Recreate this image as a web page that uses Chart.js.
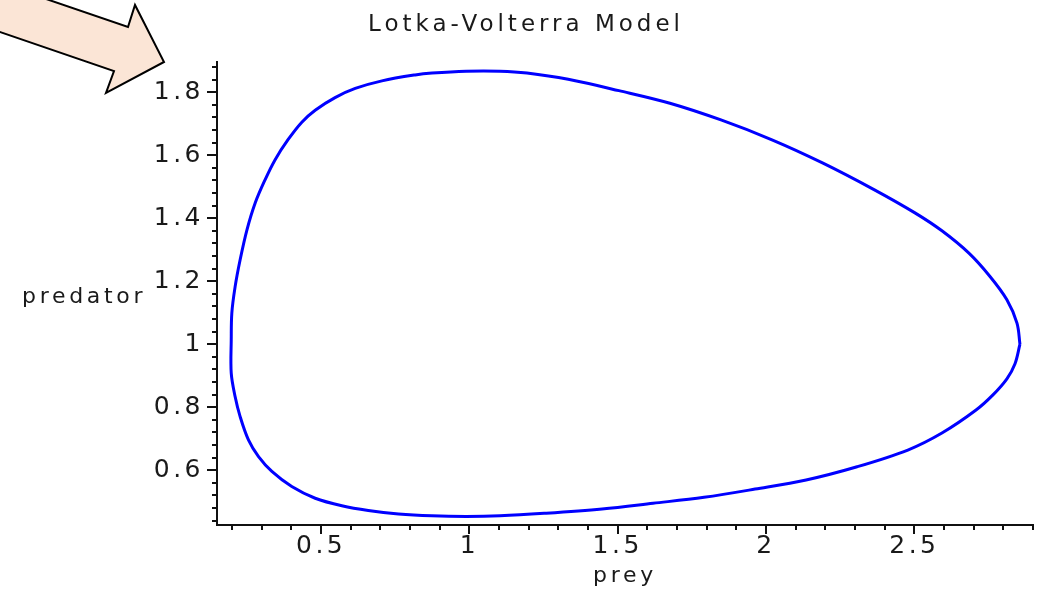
<!DOCTYPE html>
<html>
<head>
<meta charset="utf-8">
<title>Lotka-Volterra Model</title>
<script src="https://cdn.jsdelivr.net/npm/chart.js@4.4.1/dist/chart.umd.min.js"></script>
<style>
  body { margin: 0; background: #fff; }
  canvas { display: block; }
</style>
</head>
<body>
<canvas id="lv_chart" width="1038" height="590"></canvas>
<script>
const chart_title = 'Lotka-Volterra Model';
const x_label = 'prey';
const y_label = 'predator';

// orbit, starting at the right-most point, going round the top first
const prey = [
  2.856, 2.846, 2.812, 2.755, 2.684, 2.593, 2.502, 2.364, 2.192, 2.020,
  1.848, 1.676, 1.504, 1.333, 1.194, 1.103, 0.989, 0.874, 0.817, 0.705,
  0.615, 0.547, 0.480, 0.435, 0.389, 0.345, 0.311, 0.278, 0.250, 0.227,
  0.210, 0.199, 0.197, 0.197, 0.210, 0.227, 0.255, 0.289, 0.334, 0.401,
  0.480, 0.570, 0.659, 0.761, 0.873, 0.989, 1.103, 1.252, 1.447, 1.619,
  1.791, 1.963, 2.135, 2.307, 2.478, 2.593, 2.708, 2.765, 2.812, 2.839,
  2.856
];
const predator = [
  1.000, 1.067, 1.141, 1.215, 1.289, 1.360, 1.417, 1.491, 1.575, 1.649,
  1.712, 1.765, 1.805, 1.841, 1.861, 1.867, 1.867, 1.861, 1.855, 1.836,
  1.812, 1.783, 1.743, 1.705, 1.650, 1.586, 1.522, 1.449, 1.363, 1.268,
  1.182, 1.099, 1.014, 0.908, 0.834, 0.770, 0.696, 0.643, 0.596, 0.548,
  0.511, 0.487, 0.472, 0.461, 0.455, 0.453, 0.455, 0.463, 0.477, 0.495,
  0.514, 0.540, 0.569, 0.611, 0.664, 0.718, 0.791, 0.839, 0.890, 0.937,
  1.000
];

const x_ticks = [0.5, 1, 1.5, 2, 2.5];
const y_ticks = [0.6, 0.8, 1, 1.2, 1.4, 1.6, 1.8];
const x_range = [0.149, 2.9];
const y_range = [0.426, 1.896];

const x_minor = [];
for (let i = 2; i <= 29; i++) x_minor.push(i / 10);
const y_minor = [];
for (let i = 11; i <= 47; i++) y_minor.push(i * 4 / 100);

const text_color = '#1a1a1a';
const font_family = 'DejaVu Sans';

const maple_axes = {
  id: 'maple_axes',
  beforeDraw: (chart) => {
    chart.ctx.letterSpacing = '3.5px';
  },
  afterDraw: (chart) => {
    const ctx = chart.ctx;
    const xs = chart.scales.x;
    const ys = chart.scales.y;
    const area = chart.chartArea;

    ctx.save();
    ctx.strokeStyle = '#111';
    ctx.lineWidth = 2;
    ctx.beginPath();
    x_minor.forEach((v) => {
      const px = Math.round(xs.getPixelForValue(v));
      ctx.moveTo(px, area.bottom);
      ctx.lineTo(px, area.bottom + 5);
    });
    x_ticks.forEach((v) => {
      const px = Math.round(xs.getPixelForValue(v));
      ctx.moveTo(px, area.bottom);
      ctx.lineTo(px, area.bottom + 9);
    });
    y_minor.forEach((v) => {
      const py = Math.round(ys.getPixelForValue(v));
      ctx.moveTo(area.left, py);
      ctx.lineTo(area.left - 5, py);
    });
    y_ticks.forEach((v) => {
      const py = Math.round(ys.getPixelForValue(v));
      ctx.moveTo(area.left, py);
      ctx.lineTo(area.left - 10, py);
    });
    ctx.stroke();

    ctx.fillStyle = text_color;
    ctx.textAlign = 'left';
    ctx.textBaseline = 'alphabetic';
    ctx.font = `23px "${font_family}"`;
    ctx.letterSpacing = '4px';
    ctx.fillText(chart_title, 368, 31);
    ctx.font = `22px "${font_family}"`;
    ctx.letterSpacing = '3.7px';
    ctx.fillText(y_label, 22, 303);
    ctx.fillText(x_label, 593, 582);

    // call-out arrow in the top left corner
    ctx.beginPath();
    ctx.moveTo(-10, 28.6);
    ctx.lineTo(114, 71);
    ctx.lineTo(106, 93);
    ctx.lineTo(164, 62);
    ctx.lineTo(135, 5);
    ctx.lineTo(128, 27);
    ctx.lineTo(-10, -20.2);
    ctx.closePath();
    ctx.fillStyle = '#fbe5d6';
    ctx.fill();
    ctx.strokeStyle = '#000';
    ctx.lineWidth = 2;
    ctx.lineJoin = 'miter';
    ctx.stroke();
    ctx.restore();
  }
};

const config = {
  type: 'scatter',
  data: {
    datasets: [
      {
        data: prey.map((p, i) => ({ x: p, y: predator[i] })),
        showLine: true,
        borderColor: '#0000ff',
        borderWidth: 3,
        borderJoinStyle: 'round',
        pointRadius: 0,
        tension: 0.35,
        fill: false
      }
    ]
  },
  options: {
    responsive: false,
    animation: false,
    layout: {
      padding: {
        left: 0,
        right: 5,
        top: 62,
        bottom: 0
      }
    },
    scales: {
      x: {
        type: 'linear',
        min: x_range[0],
        max: x_range[1],
        afterBuildTicks: (scale) => {
          scale.ticks = x_ticks.map((v) => ({ value: v }));
        },
        afterFit: (scale) => {
          scale.height = 65;
        },
        grid: { display: false, drawTicks: false },
        border: { display: true, color: '#111', width: 2 },
        ticks: {
          autoSkip: false,
          maxRotation: 0,
          padding: 6,
          color: text_color,
          font: { family: font_family, size: 25 },
          callback: (v) => String(v)
        }
      },
      y: {
        type: 'linear',
        min: y_range[0],
        max: y_range[1],
        afterBuildTicks: (scale) => {
          scale.ticks = y_ticks.map((v) => ({ value: v }));
        },
        afterFit: (scale) => {
          scale.width = 217;
        },
        grid: { display: false, drawTicks: false },
        border: { display: true, color: '#111', width: 2 },
        ticks: {
          autoSkip: false,
          padding: 13,
          color: text_color,
          font: { family: font_family, size: 25 },
          callback: (v) => String(v)
        }
      }
    },
    plugins: {
      legend: { display: false },
      tooltip: { enabled: false },
      title: { display: false }
    }
  },
  plugins: [maple_axes]
};

const lv_chart = new Chart(document.getElementById('lv_chart'), config);
</script>
</body>
</html>
